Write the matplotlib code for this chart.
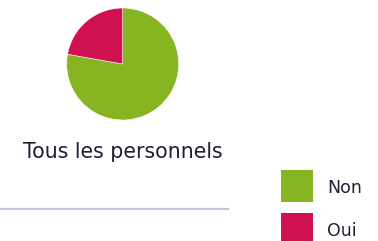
import matplotlib.pyplot as plt
from matplotlib.lines import Line2D
from matplotlib.patches import Rectangle

# donnees
categories = ["Non", "Oui"]
valeurs = [7, 2]
couleurs = ["#86b521", "#d01150"]
titre = "Tous les personnels"

W, H = 378, 241
plt.rcParams['font.family'] = ['DejaVu Sans']
fig = plt.figure(figsize=(W / 100, H / 100), dpi=100)
texte = "#1e1f38"

# camembert
cx, cy, r = 122.7, 64, 56
ax = fig.add_axes([(cx - r) / W, 1 - (cy + r) / H, 2 * r / W, 2 * r / H])
wedges, _ = ax.pie(valeurs, colors=couleurs, startangle=90, counterclock=False,
                   wedgeprops=dict(linewidth=0.4, edgecolor="white"))
ax.set_xlim(-1, 1)
ax.set_ylim(-1, 1)
ax.set_aspect("equal")

fig.text(122.5 / W, 1 - 157.7 / H, titre, ha="center", va="baseline",
         fontsize=14.8, color=texte)

# ligne de separation
fig.add_artist(Line2D([0, 228 / W], [1 - 209 / H, 1 - 209 / H],
                      color="#c4c4de", linewidth=1.6))

# legende
for i, (cat, col) in enumerate(zip(categories, couleurs)):
    top = 170 + i * 43
    fig.add_artist(Rectangle((281 / W, 1 - (top + 32) / H), 32 / W, 32 / H,
                             transform=fig.transFigure, facecolor=col,
                             edgecolor="none"))
    fig.text(327.5 / W, 1 - (top + 22.7) / H, cat, ha="left", va="baseline",
             fontsize=12.5, color=texte)

fig.savefig("out.png", dpi=100)
